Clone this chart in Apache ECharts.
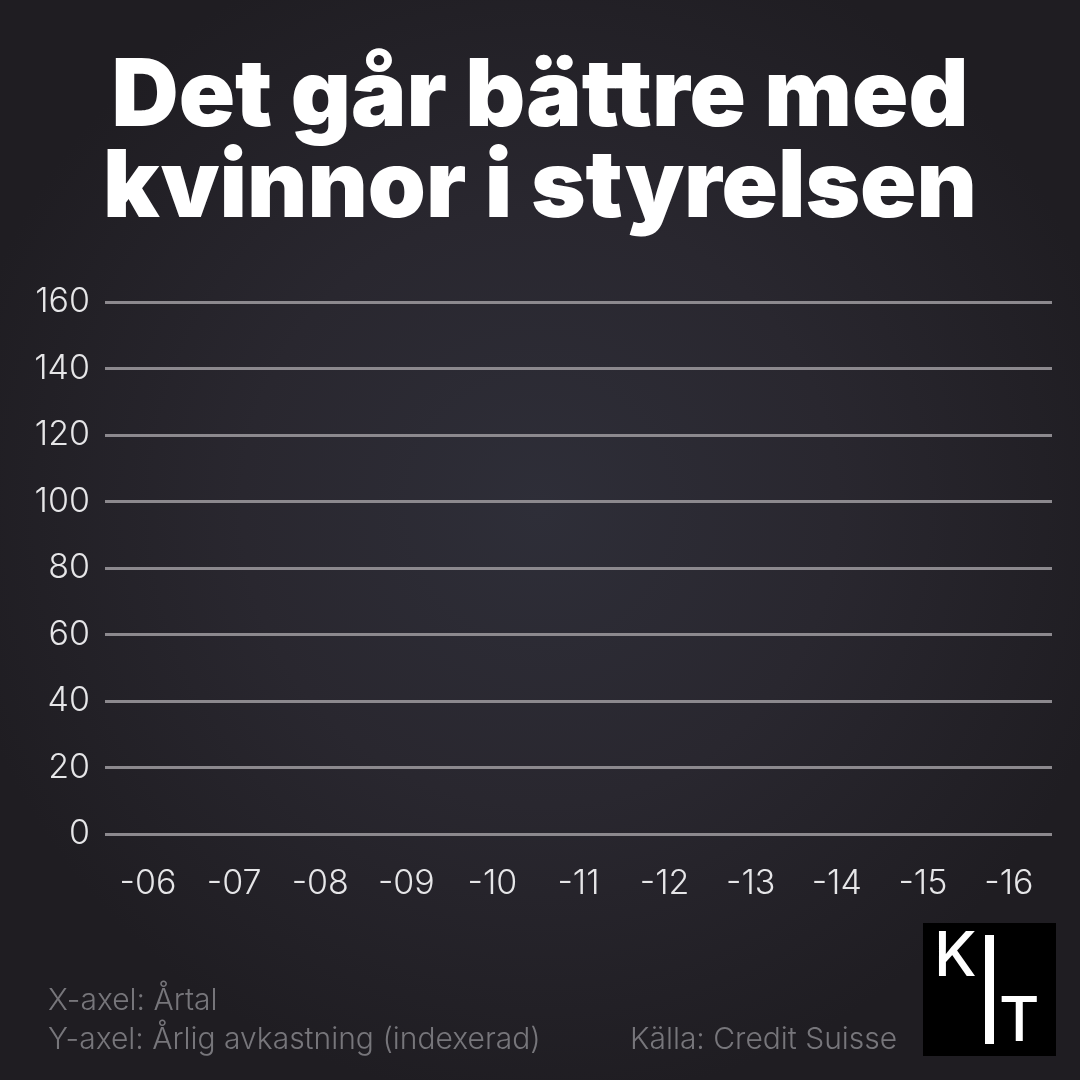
<!DOCTYPE html>
<html>
<head>
<meta charset="utf-8">
<script src="https://cdn.jsdelivr.net/npm/echarts@6/dist/echarts.min.js"></script>
<style>
  html, body { margin: 0; padding: 0; background: #242228; }
  #main { width: 1080px; height: 1080px; }
</style>
</head>
<body>
<div id="main"></div>
<script>
// årtal på x-axeln
const years = ["-06", "-07", "-08", "-09", "-10", "-11", "-12", "-13", "-14", "-15", "-16"];
// serien är tom i originalet
const returns = [];
// y-axelns skala
const yMin = 0;
const yMax = 160;
const yStep = 20;

const chart = echarts.init(document.getElementById("main"), null, { width: 1080, height: 1080 });

const option = {
  backgroundColor: new echarts.graphic.RadialGradient(0.5, 0.47, 0.55, [
    { offset: 0, color: "#2e2e38" },
    { offset: 0.5, color: "#29272f" },
    { offset: 1, color: "#1f1d22" },
  ]),
  animation: false,
  title: {
    text: "Det går bättre med\nkvinnor i styrelsen",
    left: "center",
    top: 48,
    textStyle: {
      color: "#ffffff",
      fontFamily: "Inter",
      fontWeight: 900,
      fontSize: 93,
      lineHeight: 91,
    },
  },
  grid: { left: 105, right: 28, top: 302, bottom: 246 },
  xAxis: {
    type: "category",
    data: years,
    boundaryGap: true,
    axisLine: { show: false },
    axisTick: { show: false },
    axisLabel: {
      color: "#e6e6e8",
      fontFamily: "Inter",
      fontWeight: 300,
      fontSize: 34,
      margin: 33,
    },
  },
  yAxis: {
    type: "value",
    min: yMin,
    max: yMax,
    interval: yStep,
    axisLine: { show: false },
    axisTick: { show: false },
    axisLabel: {
      color: "#e6e6e8",
      fontFamily: "Inter",
      fontWeight: 300,
      fontSize: 34,
      margin: 15,
    },
    splitLine: { lineStyle: { color: "#8c898e", width: 3 } },
  },
  series: [
    { type: "line", data: returns, lineStyle: { color: "#ffffff" } },
  ],
  graphic: [
    {
      type: "text",
      left: 48,
      top: 986,
      style: { text: "X-axel: Årtal", fill: "#77767b", font: "300 30px Inter" },
    },
    {
      type: "text",
      left: 48,
      top: 1025,
      style: { text: "Y-axel: Årlig avkastning (indexerad)", fill: "#77767b", font: "300 30px Inter" },
    },
    {
      type: "text",
      left: 630,
      top: 1025,
      style: { text: "Källa: Credit Suisse", fill: "#77767b", font: "300 30px Inter" },
    },
    // KT-logga
    {
      type: "group",
      left: 923,
      top: 923,
      children: [
        { type: "rect", shape: { x: 0, y: 0, width: 133, height: 133 }, style: { fill: "#000000" } },
        { type: "text", x: 11, y: 3, style: { text: "K", fill: "#ffffff", font: "500 62px Inter" } },
        { type: "rect", shape: { x: 62, y: 12, width: 9, height: 109 }, style: { fill: "#ffffff" } },
        { type: "text", x: 76, y: 68, style: { text: "T", fill: "#ffffff", font: "500 62px Inter" } },
      ],
    },
  ],
};

chart.setOption(option);
</script>
</body>
</html>
